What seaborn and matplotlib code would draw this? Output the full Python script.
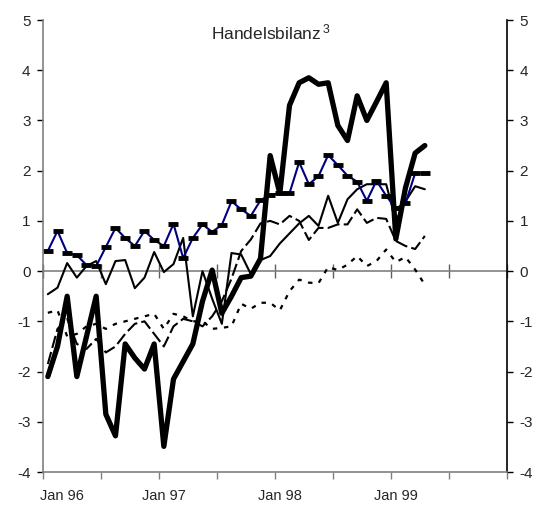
import numpy as np
import pandas as pd
import matplotlib
matplotlib.use("Agg")
from matplotlib import pyplot as plt
import seaborn as sns

sns.set_style("white")
plt.rcParams["font.family"] = ["Liberation Sans", "DejaVu Sans"]
plt.rcParams["mathtext.default"] = "regular"

# monthly values, Jan 96 .. Apr 99
months = np.arange(40)
thick = [-2.1, -1.5, -0.5, -2.1, -1.3, -0.5, -2.85, -3.28, -1.45, -1.73,
         -1.95, -1.45, -3.49, -2.15, -1.8, -1.45, -0.6, 0.02, -0.84, -0.5,
         -0.13, -0.1, 0.25, 2.3, 1.55, 3.3, 3.75, 3.85, 3.72, 3.75,
         2.9, 2.6, 3.49, 3.0, 3.37, 3.75, 0.64, 1.66, 2.35, 2.5]
blue = [0.4, 0.8, 0.36, 0.32, 0.12, 0.1, 0.48, 0.86, 0.66, 0.5,
        0.8, 0.62, 0.5, 0.94, 0.26, 0.66, 0.93, 0.78, 0.92, 1.39,
        1.23, 1.1, 1.41, 1.52, 1.55, 1.55, 2.17, 1.73, 1.89, 2.31,
        2.11, 1.9, 1.78, 1.4, 1.8, 1.5, 1.25, 1.35, 1.95, 1.95]
thin = [-0.46, -0.33, 0.16, -0.13, 0.1, 0.2, -0.26, 0.2, 0.22, -0.34,
        -0.13, 0.38, -0.02, 0.14, 0.66, -0.9, 0.0, -0.55, -1.05, 0.36,
        0.33, -0.06, 0.22, 0.3, 0.55, 0.75, 0.95, 1.1, 0.9, 1.5,
        0.96, 1.43, 1.63, 1.73, 1.73, 1.73, 1.0, 1.39, 1.69, 1.63]
dashed = [-1.85, -1.15, -0.95, -1.45, -1.55, -1.35, -1.62, -1.5, -1.25, -1.05,
          -1.0, -1.25, -1.5, -1.1, -0.95, -1.0, -1.1, -0.9, -0.6, -0.15,
          0.4, 0.63, 0.95, 1.0, 0.93, 1.1, 1.0, 0.62, 0.86, 0.86,
          0.93, 0.93, 1.23, 0.96, 1.06, 1.04, 0.6, 0.5, 0.44, 0.7]
dotted = [-0.83, -0.78, -1.3, -1.25, -1.1, -1.05, -1.15, -1.05, -1.0, -0.95,
          -0.9, -0.85, -1.15, -0.85, -0.9, -1.0, -1.0, -1.15, -1.13, -1.1,
          -0.65, -0.75, -0.63, -0.63, -0.78, -0.4, -0.17, -0.23, -0.24, 0.08,
          0.02, 0.13, 0.3, 0.1, 0.2, 0.43, 0.18, 0.28, 0.03, -0.27]

x_labels = ["Jan 96", "Jan 97", "Jan 98", "Jan 99"]
x_label_pos = [2.0, 12.5, 24.5, 36.5]
y_ticks = list(range(-4, 6))

df = pd.DataFrame({"x": months + 0.5, "thick": thick, "blue": blue,
                   "thin": thin, "dashed": dashed, "dotted": dotted})

fig = plt.figure(figsize=(5.44, 5.12), dpi=100)
ax = fig.add_axes([43 / 544, 40 / 512, 464 / 544, 452 / 512])

sns.lineplot(data=df, x="x", y="dotted", ax=ax, color="black", linewidth=1.6,
             linestyle=(0, (2, 3)))
sns.lineplot(data=df, x="x", y="dashed", ax=ax, color="black", linewidth=1.5,
             linestyle=(0, (6, 2)))
sns.lineplot(data=df, x="x", y="thin", ax=ax, color="black", linewidth=1.5)
sns.lineplot(data=df, x="x", y="blue", ax=ax, color="#000080", linewidth=1.5,
             marker="_", markersize=7, markeredgewidth=3.5, markeredgecolor="black")
sns.lineplot(data=df, x="x", y="thick", ax=ax, color="black", linewidth=3.8)

ax.set_xlim(0, 48)
ax.set_ylim(-4, 5)
ax.set_xlabel("")
ax.set_ylabel("")

# x axis: ticks every 6 months, labels in January
ax.set_xticks(np.arange(0, 49, 6))
ax.set_xticklabels([])
ax.set_xticks(x_label_pos, minor=True)
ax.set_xticklabels(x_labels, minor=True, fontsize=10.5)
ax.tick_params(axis="x", which="major", direction="out", length=5, width=1,
               color="#808080", bottom=True)
ax.tick_params(axis="x", which="minor", length=0, pad=12)

ax.set_yticks(y_ticks)
ax.set_yticklabels([str(v) for v in y_ticks], fontsize=11)
ax.tick_params(axis="y", direction="out", length=4, width=1, pad=5,
               left=True, right=True, labelleft=True, labelright=True,
               color="black")

for side in ["left", "bottom"]:
    ax.spines[side].set_color("#808080")
    ax.spines[side].set_linewidth(1.2)
ax.spines["right"].set_color("black")
ax.spines["right"].set_linewidth(1.2)
ax.spines["top"].set_visible(False)

# zero line with crossing ticks
zero = ax.secondary_xaxis(4 / 9)
zero.set_xticks(np.arange(0, 49, 6))
zero.set_xticklabels([])
zero.tick_params(direction="inout", length=10, width=1, color="#606060")
zero.spines["bottom"].set_color("#808080")
zero.spines["bottom"].set_linewidth(1.2)

ax.text(0.49, 0.958, "Handelsbilanz$^{\\,3}$", transform=ax.transAxes,
        ha="center", va="baseline", fontsize=12.5)

plt.savefig("out.png", dpi=100)
